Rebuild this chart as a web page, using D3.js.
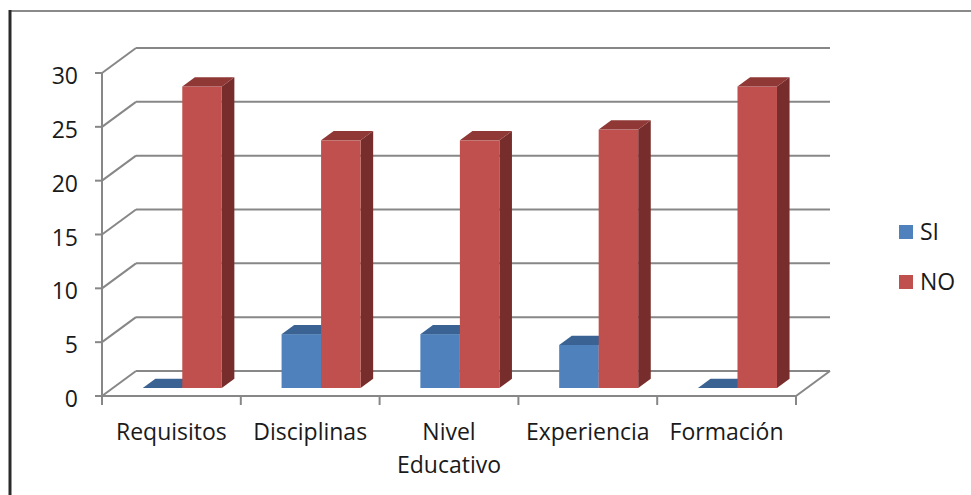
<!DOCTYPE html>
<html>
<head>
<meta charset="utf-8">
<script src="https://cdn.jsdelivr.net/npm/d3@7"></script>
<style>
  html, body { margin: 0; padding: 0; background: #fff; }
  svg { display: block; }
  text { font-family: "Open Sans", sans-serif; fill: #1a1a1a; }
</style>
</head>
<body>
<svg width="971" height="495"></svg>
<script>
// chart data
var categories = ["Requisitos", "Disciplinas", "Nivel Educativo", "Experiencia", "Formación"];
var seriesNames = ["SI", "NO"];
var siValues = [0, 5, 5, 4, 0];
var noValues = [28, 23, 23, 24, 28];
var yTicks = [0, 5, 10, 15, 20, 25, 30];

function main() {
    var svg = d3.select("svg");

    var left = 102, right = 796, bottom = 396, top = 73;
    var depthX = 34, depthY = -25;          // floor depth of the 3d box
    var barFront = 0.32, barBack = 0.69;    // where bars sit in the depth

    var colors = {
        SI: { front: "#4f81bd", top: "#3a6393", side: "#2f5078" },
        NO: { front: "#c0504d", top: "#8f3836", side: "#772d2b" }
    };

    // frame of the chart area
    svg.append("line")
        .attr("x1", 10).attr("y1", 11).attr("x2", 971).attr("y2", 11)
        .attr("stroke", "#8a8a8a").attr("stroke-width", 2);
    svg.append("line")
        .attr("x1", 10).attr("y1", 10).attr("x2", 10).attr("y2", 495)
        .attr("stroke", "#2a2a2a").attr("stroke-width", 3);

    var yScale = d3.scaleLinear().domain([0, 30]).range([bottom, top]);
    var xScale = d3.scaleBand().domain(categories).range([left, right]).paddingInner(0).paddingOuter(0);
    var bw = xScale.bandwidth();
    var xSub = d3.scaleBand().domain(seriesNames).range([bw / 2 - 39.5, bw / 2 + 39.5]);

    var grid = svg.append("g").attr("stroke", "#878787").attr("stroke-width", 2).attr("fill", "none");

    // back wall lines and side wall diagonals
    grid.selectAll(".back")
        .data(yTicks)
        .enter().append("line")
        .attr("x1", left + depthX).attr("x2", right + depthX)
        .attr("y1", function(d) { return yScale(d) + depthY; })
        .attr("y2", function(d) { return yScale(d) + depthY; });

    grid.selectAll(".diag")
        .data(yTicks)
        .enter().append("line")
        .attr("x1", left).attr("x2", left + depthX)
        .attr("y1", function(d) { return yScale(d); })
        .attr("y2", function(d) { return yScale(d) + depthY; });

    // floor right edge
    grid.append("line")
        .attr("x1", right).attr("y1", yScale(0))
        .attr("x2", right + depthX).attr("y2", yScale(0) + depthY);

    // front axes
    grid.append("line")
        .attr("x1", left).attr("x2", right)
        .attr("y1", yScale(0)).attr("y2", yScale(0));
    grid.append("line")
        .attr("x1", left).attr("x2", left)
        .attr("y1", yScale(30)).attr("y2", yScale(0));

    grid.selectAll(".ytick")
        .data(yTicks)
        .enter().append("line")
        .attr("x1", left - 7).attr("x2", left)
        .attr("y1", function(d) { return yScale(d); })
        .attr("y2", function(d) { return yScale(d); });

    var catEdges = categories.map(function(c) { return xScale(c); }).concat([right]);
    grid.selectAll(".xtick")
        .data(catEdges)
        .enter().append("line")
        .attr("x1", function(d) { return d; }).attr("x2", function(d) { return d; })
        .attr("y1", yScale(0)).attr("y2", yScale(0) + 9);

    // y labels
    svg.selectAll(".ylabel")
        .data(yTicks)
        .enter().append("text")
        .attr("x", 78)
        .attr("y", function(d) { return yScale(d); })
        .attr("dy", "0.48em")
        .attr("text-anchor", "end")
        .style("font-size", "23px")
        .text(function(d) { return d; });

    // category labels, wrapped to the band width
    svg.selectAll(".xlabel")
        .data(categories)
        .enter().append("text")
        .attr("text-anchor", "middle")
        .style("font-size", "23px")
        .each(function(d) {
            var t = d3.select(this);
            var cx = xScale(d) + bw / 2;
            var words = d.split(" "), lines = [], line = [];
            words.forEach(function(w) {
                line.push(w);
                t.text(line.join(" "));
                if (this.getComputedTextLength && t.node().getComputedTextLength() > bw - 4 && line.length > 1) {
                    line.pop();
                    lines.push(line.join(" "));
                    line = [w];
                }
            }, this);
            lines.push(line.join(" "));
            t.text(null);
            lines.forEach(function(l, i) {
                t.append("tspan").attr("x", cx).attr("y", 440 + i * 32.5).text(l);
            });
        });

    // bars
    var fx = depthX * barFront, fy = depthY * barFront;
    var bdx = depthX * (barBack - barFront), bdy = depthY * (barBack - barFront);
    var bw2 = xSub.bandwidth();

    var rows = [];
    categories.forEach(function(c, i) {
        rows.push({ cat: c, series: "SI", value: siValues[i] });
        rows.push({ cat: c, series: "NO", value: noValues[i] });
    });

    var bars = svg.selectAll(".bar")
        .data(rows)
        .enter().append("g")
        .attr("class", "bar");

    function pts(arr) { return arr.map(function(p) { return p.join(","); }).join(" "); }

    bars.each(function(d) {
        var g = d3.select(this);
        var x0 = xScale(d.cat) + xSub(d.series) + fx;
        var x1 = x0 + bw2;
        var yt = yScale(d.value) + fy;
        var yb = yScale(0) + fy;
        var c = colors[d.series];

        g.append("polygon")
            .attr("points", pts([[x1, yt], [x1 + bdx, yt + bdy], [x1 + bdx, yb + bdy], [x1, yb]]))
            .attr("fill", c.side);
        g.append("rect")
            .attr("x", x0).attr("y", yt)
            .attr("width", bw2).attr("height", yb - yt)
            .attr("fill", c.front);
        g.append("polygon")
            .attr("points", pts([[x0, yt], [x0 + bdx, yt + bdy], [x1 + bdx, yt + bdy], [x1, yt]]))
            .attr("fill", c.top);
    });

    // legend
    var legend = svg.selectAll(".legend")
        .data(seriesNames)
        .enter().append("g")
        .attr("transform", function(d, i) { return "translate(899," + (225 + i * 50) + ")"; });

    legend.append("rect")
        .attr("width", 14).attr("height", 14)
        .attr("fill", function(d) { return colors[d].front; });

    legend.append("text")
        .attr("x", 21).attr("y", 15)
        .style("font-size", "23px")
        .text(function(d) { return d; });
}
main();
</script>
</body>
</html>
